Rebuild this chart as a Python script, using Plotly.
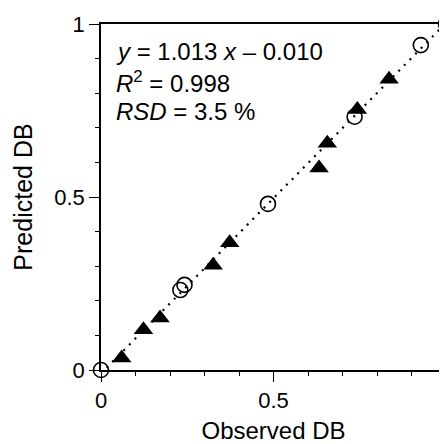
import plotly.graph_objects as go

# Observed vs predicted DB
tri_obs = [0.06, 0.123, 0.171, 0.325, 0.373, 0.632, 0.656, 0.743, 0.835]
tri_pred = [0.035, 0.116, 0.150, 0.303, 0.368, 0.584, 0.655, 0.753, 0.840]

circ_obs = [0.0, 0.230, 0.242, 0.484, 0.735, 0.927, 1.0]
circ_pred = [0.0, 0.231, 0.246, 0.480, 0.732, 0.939, 1.0]

# regression line y = 1.013 x - 0.010
fit_x = [0.0, 1.0]
fit_y = [-0.010, 1.003]

stats_lines = [
    "<i>y</i> = 1.013 <i>x</i> – 0.010",
    "<i>R</i><sup>2</sup> = 0.998",
    "<i>RSD</i> = 3.5 %",
]
stats_y = [0.920, 0.833, 0.746]

tick_vals = [0, 0.5, 1]
tick_text = ["0", "0.5", "1"]

FONT = "Liberation Sans, Arial, Helvetica, sans-serif"

fig = go.Figure()

fig.add_trace(go.Scatter(
    x=fit_x, y=fit_y, mode="lines",
    line=dict(color="black", width=2.2, dash="2px,6px"),
    showlegend=False, hoverinfo="skip",
))

fig.add_trace(go.Scatter(
    x=tri_obs, y=tri_pred, mode="markers",
    marker=dict(symbol="triangle-up", size=17, color="black",
                line=dict(color="black", width=0)),
    cliponaxis=False, showlegend=False,
))

fig.add_trace(go.Scatter(
    x=circ_obs, y=circ_pred, mode="markers",
    marker=dict(symbol="circle-open", size=15, color="black",
                line=dict(color="black", width=1.6)),
    cliponaxis=False, showlegend=False,
))

for txt, yy in zip(stats_lines, stats_y):
    fig.add_annotation(
        x=0.038, y=yy, xref="x", yref="y", text=txt, showarrow=False,
        xanchor="left", yanchor="middle",
        font=dict(family=FONT, size=24, color="black"),
    )

axis_common = dict(
    range=[0, 1], tickvals=tick_vals, ticktext=tick_text,
    ticks="outside", ticklen=10, tickwidth=1.2, tickcolor="black",
    showline=True, linecolor="black", linewidth=1.5, mirror=True,
    showgrid=False, zeroline=False, automargin=False,
    ticklabeloverflow="allow",
    tickfont=dict(family=FONT, size=22, color="black"),
    minor=dict(dtick=0.1, ticks="outside", ticklen=4, tickwidth=1,
               tickcolor="black", showgrid=False),
)

# the page body keeps an 8px margin, so the figure is a bit smaller
fig.update_layout(
    width=439, height=436,
    margin=dict(l=93, r=1, t=16, b=74),
    paper_bgcolor="white", plot_bgcolor="white",
    font=dict(family=FONT, color="black"),
    xaxis=dict(axis_common, title=dict(text="Observed DB",
               font=dict(family=FONT, size=24))),
    yaxis=dict(axis_common, title=dict(text="Predicted DB",
               font=dict(family=FONT, size=25))),
)

fig.write_html("out.html")
